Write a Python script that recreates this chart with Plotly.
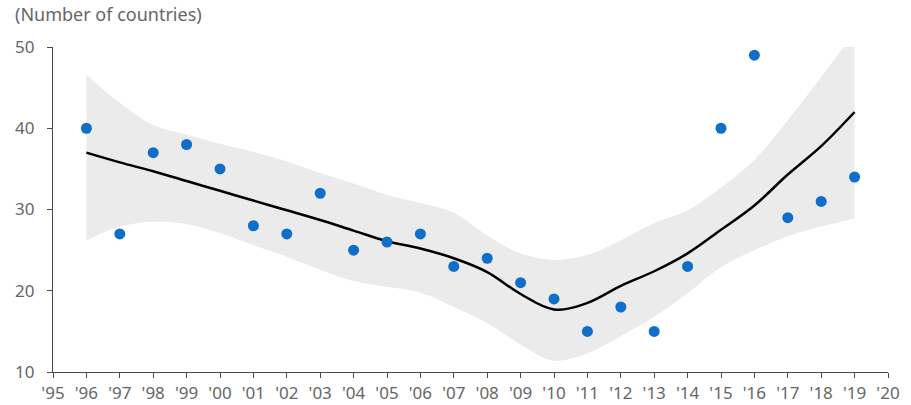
import plotly.graph_objects as go

# Survey years (1996-2019) and the observed country counts
years = list(range(1996, 2020))
counts = [40, 27, 37, 38, 35, 28, 27, 32, 25, 26, 27, 23,
          24, 21, 19, 15, 18, 15, 23, 40, 49, 29, 31, 34]

# Fitted trend and its confidence band
trend = [37.0, 35.8, 34.7, 33.5, 32.3, 31.1, 29.9, 28.7, 27.4, 26.1, 25.2, 24.0,
         22.3, 19.6, 17.7, 18.5, 20.6, 22.4, 24.6, 27.5, 30.5, 34.3, 37.8, 42.0]
band_upper = [46.6, 43.1, 40.4, 39.2, 38.1, 37.1, 35.9, 34.5, 33.2, 31.8, 30.8, 29.6,
              26.8, 24.6, 23.8, 24.4, 26.2, 28.3, 29.9, 32.7, 36.1, 41.0, 46.3, 51.8]
band_lower = [26.2, 27.9, 28.5, 28.2, 27.1, 25.6, 24.2, 22.6, 21.2, 20.5, 19.8, 18.0,
              16.0, 13.4, 11.4, 12.3, 14.4, 16.8, 19.7, 22.9, 25.0, 26.7, 27.9, 28.9]

tick_years = list(range(1995, 2021))
tick_labels = ["'" + str(y)[2:] for y in tick_years]

text_grey = "#666666"
axis_grey = "#4a4a4a"
font_family = "Noto Sans, sans-serif"

fig = go.Figure()

fig.add_trace(go.Scatter(
    x=years, y=band_lower, mode="lines", line=dict(width=0, shape="spline"),
    hoverinfo="skip", showlegend=False))
fig.add_trace(go.Scatter(
    x=years, y=band_upper, mode="lines", line=dict(width=0, shape="spline"),
    fill="tonexty", fillcolor="#ebebeb", hoverinfo="skip", showlegend=False))
fig.add_trace(go.Scatter(
    x=years, y=trend, mode="lines", line=dict(color="black", width=2.5, shape="spline"),
    showlegend=False))
fig.add_trace(go.Scatter(
    x=years, y=counts, mode="markers",
    marker=dict(color="#0f6fc8", size=11, line=dict(width=0)),
    showlegend=False))

fig.update_layout(
    width=911, height=405,
    margin=dict(l=53, r=23, t=47, b=33),
    paper_bgcolor="white", plot_bgcolor="white",
    font=dict(family=font_family, size=17, color=text_grey),
    annotations=[dict(
        text="(Number of countries)", xref="paper", yref="paper",
        x=-0.048, y=1.0, yshift=47, xanchor="left", yanchor="top",
        showarrow=False, font=dict(size=18, color=text_grey))],
)

fig.update_xaxes(
    range=[1995, 2020], tickvals=tick_years, ticktext=tick_labels,
    automargin=False,
    showgrid=False, zeroline=False, showline=True, linecolor=axis_grey, linewidth=1.3,
    ticks="outside", ticklen=5, tickcolor=axis_grey, tickwidth=1.3,
    tickfont=dict(size=17, color=text_grey))
fig.update_yaxes(
    range=[10, 50], tickvals=[10, 20, 30, 40, 50],
    automargin=False, ticklabelstandoff=9,
    showgrid=False, zeroline=False, showline=True, linecolor=axis_grey, linewidth=1.3,
    ticks="outside", ticklen=5, tickcolor=axis_grey, tickwidth=1.3,
    tickfont=dict(size=17, color=text_grey))

fig.write_html("out.html")
